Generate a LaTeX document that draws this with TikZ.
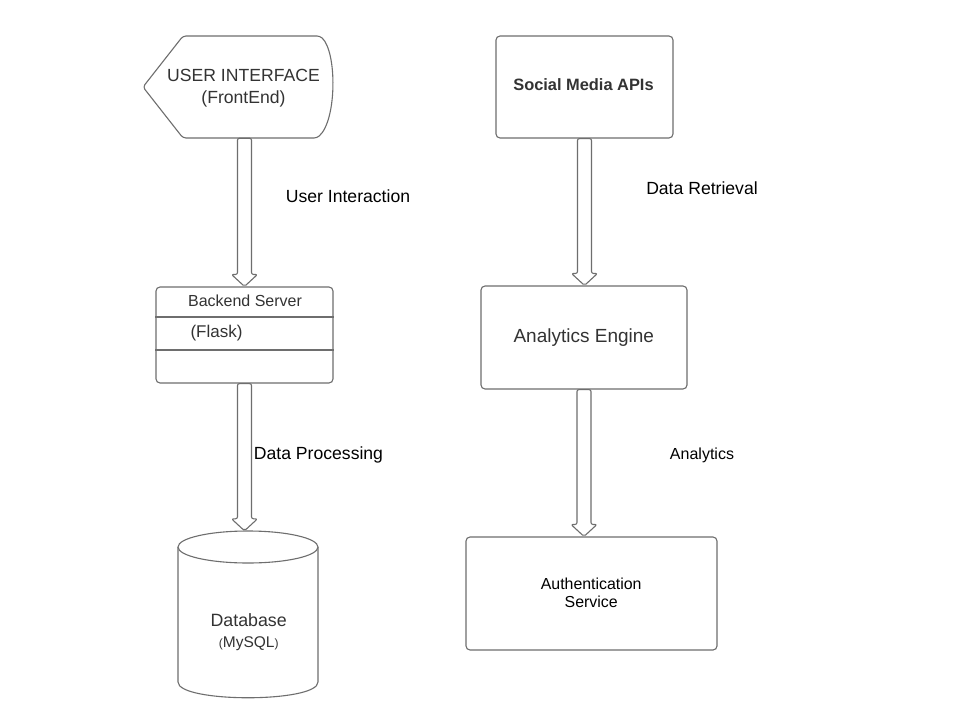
\documentclass[tikz,border=0pt]{standalone}
\usepackage{fontspec}
\setmainfont{Liberation Sans}
\usetikzlibrary{calc}
\definecolor{ln}{HTML}{6E6E6E}
\definecolor{tx}{HTML}{333333}
\newcommand{\blockarr}[2]{%
  \draw[blockarrow] ($(#1)+(-7,0)$) -- ($(#2)+(-7,-12)$) -- ($(#2)+(-13,-12)$) -- (#2)
    -- ($(#2)+(13,-12)$) -- ($(#2)+(7,-12)$) -- ($(#1)+(7,0)$) -- cycle;}
\begin{document}
\begin{tikzpicture}[x=1pt,y=-1pt,
  outline/.style={draw=ln, line width=1.1pt, fill=white},
  box/.style={outline, rounded corners=4pt, inner sep=0pt},
  ghost/.style={inner sep=0pt},
  blockarrow/.style={draw=ln, line width=1.1pt, fill=white, rounded corners=2pt, line join=round},
  boxtext/.style={text=tx, inner sep=0pt, anchor=base},
  lbl/.style={text=black, inner sep=0pt, anchor=base}]
\fill[white] (0,0) rectangle (967,707);
\useasboundingbox (0,0) rectangle (967,707);

% ---- User interface (display shape)
\node[ghost, minimum width=190pt, minimum height=102pt] (ui) at (238,87) {};
\draw[outline, rounded corners=3pt] (143,87) -- (183,36) -- (320,36)
  .. controls (337,52) and (337,120) .. (317,138) -- (183,138) -- cycle;
\node[boxtext, font=\fontsize{17.6}{21}\selectfont] (ui1) at (243.5,81) {USER INTERFACE};
\node[boxtext, font=\fontsize{17.6}{21}\selectfont] (ui2) at (243.5,103) {(FrontEnd)};

% ---- Backend server
\node[box, minimum width=177pt, minimum height=96pt] (be) at (244.5,335) {};
\coordinate (d1) at (0,317);
\coordinate (d2) at (0,350);
\draw[draw=ln, line width=1.1pt] (be.west |- d1) -- (be.east |- d1);
\draw[draw=ln, line width=1.1pt] (be.west |- d2) -- (be.east |- d2);
\node[boxtext, font=\fontsize{16}{19}\selectfont] (be1) at (245,306) {Backend Server};
\node[boxtext, font=\fontsize{17}{20}\selectfont] (be2) at (216.5,337) {(Flask)};

% ---- Database
\node[ghost, minimum width=140pt, minimum height=167pt] (db) at (248,614.5) {};
\draw[outline] (178,547) -- (178,682) .. controls (178,703) and (318,703) .. (318,682) -- (318,547);
\draw[outline] (248,547) ellipse [x radius=70, y radius=16];
\node[boxtext, font=\fontsize{17.8}{21}\selectfont] (db1) at (248.7,626.7) {Database};
\node[boxtext, font=\fontsize{15.5}{18}\selectfont] (db2) at (248.7,647)
  {{\fontsize{12}{14}\selectfont(}MySQL{\fontsize{12}{14}\selectfont)}};

% ---- Right column
\node[box, minimum width=177pt, minimum height=102pt] (sm) at (584.5,87) {};
\node[boxtext, font=\bfseries\fontsize{16.4}{19}\selectfont] (sm1) at (583.5,90) {Social Media APIs};

\node[box, minimum width=206pt, minimum height=103pt] (ae) at (584,337.5) {};
\node[boxtext, font=\fontsize{19}{22}\selectfont] (ae1) at (583.8,342.7) {Analytics Engine};

\node[box, minimum width=251pt, minimum height=113pt] (auth) at (591.5,593.5) {};
\node[lbl, font=\fontsize{15.9}{19}\selectfont] (au1) at (591.2,589) {Authentication};
\node[lbl, font=\fontsize{15.9}{19}\selectfont] (au2) at (591.2,607.7) {Service};

% ---- Block arrows
\coordinate (a1s) at (be.north |- ui.south);
\coordinate (a2e) at (be.south |- db.north);
\coordinate (a3e) at (sm.south |- ae.north);
\coordinate (a4e) at (ae.south |- auth.north);
\blockarr{a1s}{be.north}
\blockarr{be.south}{a2e}
\blockarr{sm.south}{a3e}
\blockarr{ae.south}{a4e}

% ---- Labels
\node[lbl, font=\fontsize{17.6}{21}\selectfont] (l1) at (348,202) {User Interaction};
\node[lbl, font=\fontsize{17.6}{21}\selectfont] (l2) at (318.5,459.3) {Data Processing};
\node[lbl, font=\fontsize{17.6}{21}\selectfont] (l3) at (702,194.3) {Data Retrieval};
\node[lbl, font=\fontsize{16}{19}\selectfont] (l4) at (702,459) {Analytics};
\end{tikzpicture}
\end{document}
